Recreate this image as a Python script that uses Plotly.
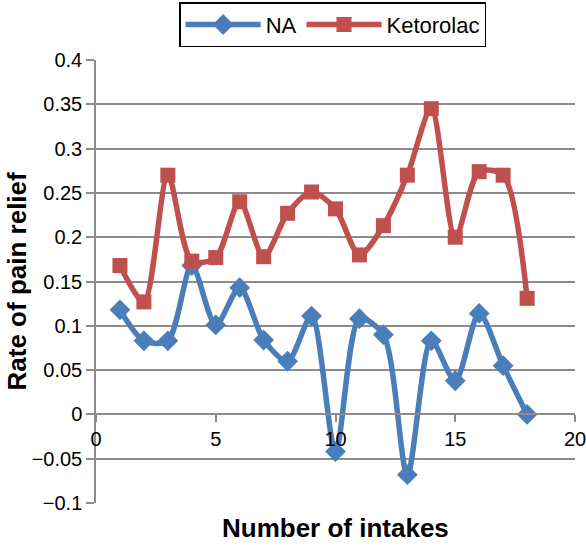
import plotly.graph_objects as go

intakes = list(range(1, 19))
na_values = [0.118, 0.083, 0.083, 0.168, 0.101, 0.143, 0.084, 0.060, 0.111,
             -0.042, 0.108, 0.090, -0.068, 0.083, 0.038, 0.114, 0.055, 0.000]
ketorolac_values = [0.168, 0.127, 0.270, 0.173, 0.177, 0.240, 0.178, 0.227, 0.251,
                    0.232, 0.180, 0.213, 0.270, 0.345, 0.200, 0.274, 0.270, 0.131]
x_ticks = [0, 5, 10, 15, 20]
y_ticks = [0.4, 0.35, 0.3, 0.25, 0.2, 0.15, 0.1, 0.05, 0, -0.05, -0.1]

BLUE = "#4A7EBB"
RED = "#C0504D"
GRID = "#8C8C8C"
FONT = "Liberation Sans, Arial, sans-serif"

fig = go.Figure()
fig.add_trace(go.Scatter(
    x=intakes, y=na_values, name="NA", mode="lines+markers",
    line=dict(color=BLUE, width=5.5, shape="spline", smoothing=0.8),
    marker=dict(symbol="diamond", size=16, color=BLUE),
))
fig.add_trace(go.Scatter(
    x=intakes, y=ketorolac_values, name="Ketorolac", mode="lines+markers",
    line=dict(color=RED, width=5.5, shape="spline", smoothing=0.8),
    marker=dict(symbol="square", size=15, color=RED),
))

fig.update_layout(
    template="none",
    width=586, height=546,
    margin=dict(l=96, r=11, t=60, b=43, autoexpand=False),
    paper_bgcolor="white", plot_bgcolor="white",
    font=dict(family=FONT, size=20, color="black"),
    showlegend=True,
    legend=dict(
        orientation="h", x=0.494, xanchor="center", y=0.996, yanchor="top",
        yref="container", bordercolor="black", borderwidth=1.5,
        font=dict(size=22, family=FONT), bgcolor="white",
        itemwidth=75,
    ),
    xaxis=dict(
        range=[0, 20], tickvals=x_ticks, ticks="outside", ticklen=7,
        tickcolor=GRID, tickwidth=1.5, showgrid=False, showline=True,
        linecolor=GRID, linewidth=1.5, anchor="free", position=0.2,
        zeroline=False, automargin=False, ticklabeloverflow="allow",
        tickfont=dict(size=20, family=FONT),
    ),
    yaxis=dict(
        range=[-0.1, 0.4], tickvals=y_ticks, ticks="outside", ticklen=8,
        tickcolor=GRID, tickwidth=1.5, showgrid=True, gridcolor=GRID,
        gridwidth=1.5, showline=True, linecolor=GRID, linewidth=1.5,
        zeroline=False, automargin=False,
        tickfont=dict(size=20, family=FONT),
    ),
    annotations=[
        dict(text="<b>Number of intakes</b>", xref="paper", yref="paper",
             x=0.5, y=-0.056, yanchor="middle", showarrow=False,
             font=dict(size=26, family=FONT)),
        dict(text="<b>Rate of pain relief</b>", xref="paper", yref="paper",
             x=-0.165, y=0.5, xanchor="center", yanchor="middle",
             textangle=-90, showarrow=False,
             font=dict(size=26, family=FONT)),
    ],
)

fig.write_html(
    "out.html",
    config={"displayModeBar": False},
    post_script="document.body.style.margin='0';",
)
